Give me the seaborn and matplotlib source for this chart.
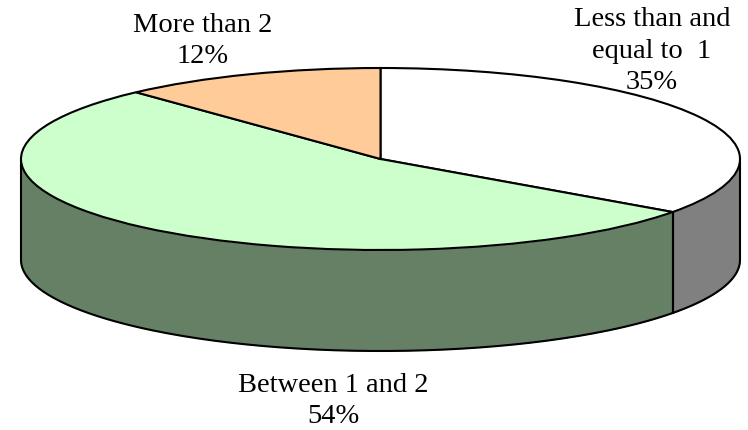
import numpy as np
import matplotlib.pyplot as plt
import seaborn as sns

# Slice data, shares
labels = ['Less than and\nequal to  1\n35%', 'Between 1 and 2\n54%', 'More than 2\n12%']
values = [34.9, 53.2, 11.9]
top_colors = ['#FFFFFF', '#CCFFCC', '#FFCC99']
side_colors = ['#808080', '#668066', '#806648']

sns.set_theme(style='white')
plt.rcParams['font.family'] = ['Liberation Serif', 'DejaVu Serif']

W, H = 748, 430
cx, cy = 380.5, 159   # pie centre in pixels
rx, ry = 359.5, 91    # ellipse radii in pixels
depth = 101 / ry      # wall height in data units
lw = 1.5

fig = plt.figure(figsize=(W / 100, H / 100), dpi=100)
ax = fig.add_axes([0, 0, 1, 1])

# top face: normal pie, squashed by the axes limits below
ax.pie(values, colors=top_colors, startangle=90, counterclock=False, radius=1,
       wedgeprops={'edgecolor': 'black', 'linewidth': lw, 'zorder': 3})
ax.set_aspect('auto')
ax.set_xlim(-cx / rx, (W - cx) / rx)
ax.set_ylim(-(H - cy) / ry, cy / ry)

# side walls, only the front half of the rim is visible
edges = 90 - 360 * np.cumsum([0] + values) / sum(values)
for i in range(len(values)):
    start = min(edges[i], 0)
    stop = max(edges[i + 1], -180)
    if start <= stop:
        continue
    t = np.radians(np.linspace(start, stop, 200))
    x, y = np.cos(t), np.sin(t)
    ax.fill_between(x, y - depth, y, color=side_colors[i], lw=0, zorder=1)
    ax.plot(x, y - depth, color='black', lw=lw, zorder=2)
    ax.plot([x[0], x[0]], [y[0], y[0] - depth], color='black', lw=lw, zorder=2)
    ax.plot([x[-1], x[-1]], [y[-1], y[-1] - depth], color='black', lw=lw, zorder=2)

# labels sit outside the pie, y is the baseline of the last line
label_pos = [(652, 89), (333, 423), (203, 63)]
for text, (px, py) in zip(labels, label_pos):
    fig.text(px / W, 1 - py / H, text, ha='center', va='baseline', fontsize=20.5,
             color='black', linespacing=1.33, zorder=5)

plt.savefig('out.png', dpi=100)
